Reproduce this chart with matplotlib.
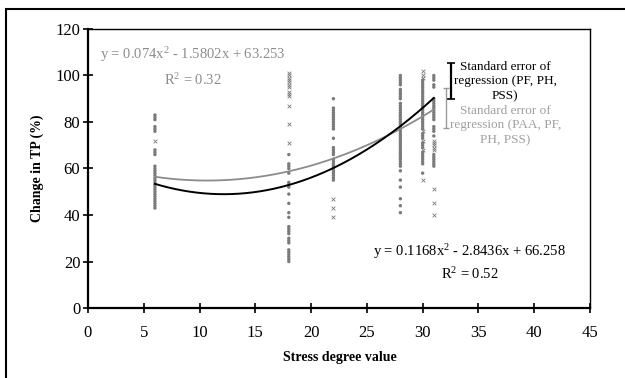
import numpy as np
import matplotlib
matplotlib.use("Agg")
import matplotlib.pyplot as plt
from matplotlib.patches import Rectangle

plt.rcParams['font.family'] = ['Liberation Serif', 'DejaVu Serif']
plt.rcParams['mathtext.fontset'] = 'custom'
plt.rcParams['mathtext.rm'] = 'Liberation Serif'
plt.rcParams['mathtext.it'] = 'Liberation Serif:italic'
plt.rcParams['mathtext.bf'] = 'Liberation Serif:bold'

# ---- data: (stress degree value, change in TP %) ----
x6_dots = [83, 82, 81, 78, 77, 76, 68, 67, 66, 61, 60, 59, 58, 57, 56, 55, 54, 53, 52, 51,
           50, 49, 48, 47, 46, 45, 44, 43]
x6_cross = [72]
x18_cross = [101, 100, 99, 98, 97, 96, 95, 93, 92, 91, 87, 79, 71]
x18_dots = [66, 62, 61, 60, 58, 54, 53, 52, 49, 45, 41, 39, 35, 34, 33, 32, 30, 29, 28,
            25, 24, 23, 22, 21, 20]
x22_dots = [90, 86, 85, 84, 83, 82, 81, 80, 79, 78, 77, 73, 69, 68, 67, 66, 64, 63, 62,
            61, 60, 59, 58, 57, 56, 55]
x22_cross = [47, 43, 39]
x28_dots = [100, 99, 98, 97, 96, 94, 93, 92, 91, 90, 88, 87, 86, 85, 84, 83, 82, 81, 80,
            79, 78, 77, 76, 75, 74, 73, 72, 71, 70, 69, 68, 67, 66, 65, 64, 63, 62, 61,
            59, 55, 52, 47, 44, 41]
x30_dots = [98, 97, 96, 95, 94, 93, 92, 91, 90, 89, 88, 87, 86, 85, 84, 83, 82, 81, 80,
            79, 78, 77, 75, 74, 73, 71, 70, 69, 67, 66, 65, 64, 63, 62, 58]
x30_cross = [102, 100, 99, 76, 72, 68, 55]
x31_dots = [100, 99, 98, 96, 95, 90, 89, 88, 87, 86, 85, 84, 83, 82, 81, 78, 77, 76, 74,
            66, 65, 64, 63, 62, 61]
x31_cross = [72, 71, 70, 69, 68, 51, 45, 40]

dot_groups = [(6, x6_dots), (18, x18_dots), (22, x22_dots), (28, x28_dots),
              (30, x30_dots), (31, x31_dots)]
cross_groups = [(6, x6_cross), (18, x18_cross), (22, x22_cross), (30, x30_cross),
                (31, x31_cross)]

# regression coefficients (from the chart's equations)
coef_all = [0.074, -1.5802, 63.253]     # PAA, PF, PH, PSS (gray)
coef_sub = [0.1168, -2.8436, 66.258]    # PF, PH, PSS (black)
fit_range = (6, 31)

x_ticks = [0, 5, 10, 15, 20, 25, 30, 35, 40, 45]
y_ticks = [0, 20, 40, 60, 80, 100, 120]

fig = plt.figure(figsize=(6.25, 3.78), dpi=100)
ax = fig.add_axes([88/625, 1-308/378, 502/625, 279/378])

gray = '#7a7a7a'
for xv, ys in dot_groups:
    ax.scatter([xv]*len(ys), ys, s=6, marker='o', color=gray, edgecolors='none', zorder=2)
for xv, ys in cross_groups:
    ax.scatter([xv]*len(ys), ys, s=7, marker='x', color=gray, linewidths=0.6, zorder=2)

xx = np.linspace(fit_range[0], fit_range[1], 200)
ax.plot(xx, np.polyval(coef_all, xx), color='#8c8c8c', lw=1.3, zorder=3)
ax.plot(xx, np.polyval(coef_sub, xx), color='black', lw=1.4, zorder=4)

# standard error bars
ax.errorbar([32.5], [97.7], yerr=[7.7], color='black', lw=1.6, capsize=3, capthick=1.2)
ax.errorbar([32.1], [86.0], yerr=[8.6], color='#9a9a9a', lw=1.0, capsize=2.5, capthick=1.0)

ax.text(37.4, 97.5, 'Standard error of\nregression (PF, PH,\nPSS)', ha='center', va='center',
        fontsize=9.5, color='black', linespacing=1.3)
ax.text(37.4, 78.5, 'Standard error of\nregression (PAA, PF,\nPH, PSS)', ha='center', va='center',
        fontsize=9.5, color='#a0a0a0', linespacing=1.3)

eq_fs = 10.5
ax.text(9.4, 108.8, 'y = 0.074x$^{2}$ - 1.5802x + 63.253', ha='center', va='center',
        fontsize=eq_fs, color='#8c8c8c')
ax.text(9.4, 98.1, 'R$^{2}$ = 0.32', ha='center', va='center', fontsize=eq_fs, color='#8c8c8c')
ax.text(34.2, 24.1, 'y = 0.1168x$^{2}$ - 2.8436x + 66.258', ha='center', va='center',
        fontsize=eq_fs, color='black')
ax.text(34.2, 14.6, 'R$^{2}$ = 0.52', ha='center', va='center', fontsize=eq_fs, color='black')

ax.set_xlim(0, 45)
ax.set_ylim(0, 120)
ax.set_xticks(x_ticks)
ax.set_yticks(y_ticks)
ax.tick_params(direction='inout', length=7, width=1.2, labelsize=12, colors='black')
ax.tick_params(axis='x', pad=9)
ax.tick_params(axis='y', pad=2)
for s in ['left', 'bottom']:
    ax.spines[s].set_linewidth(1.6)
for s in ['top', 'right']:
    ax.spines[s].set_linewidth(1.0)

fig.text(37/625, 1-168/378, 'Change in TP (%)', rotation=90, ha='center', va='center',
         fontsize=10, fontweight='bold')
fig.text(340/625, 1-358/378, 'Stress degree value', ha='center', va='center',
         fontsize=10, fontweight='bold')

fig.patches.append(Rectangle((6/625, -0.1), 1.2, 1.1 - 9/378, transform=fig.transFigure,
                             fill=False, edgecolor='black', lw=1.5, figure=fig))

fig.savefig('out.png', dpi=100)
